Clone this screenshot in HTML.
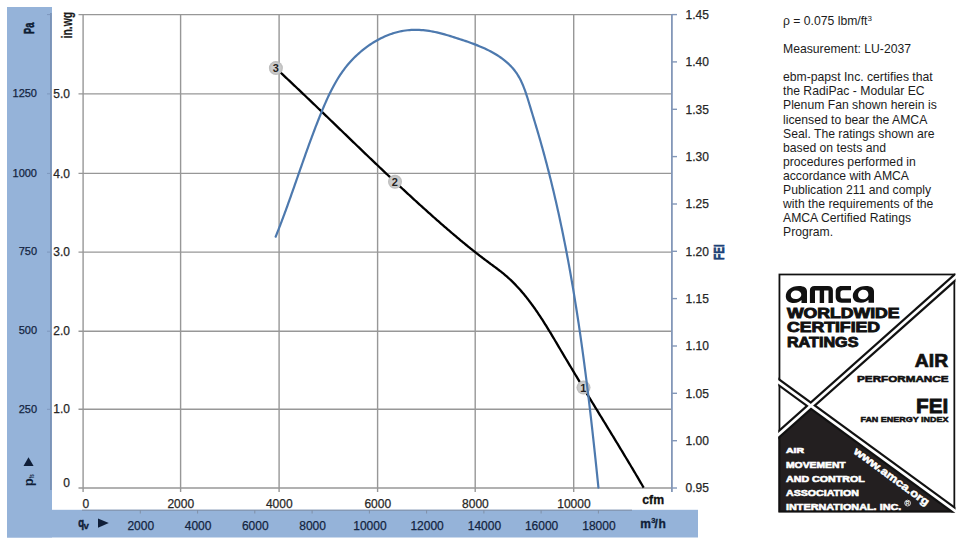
<!DOCTYPE html>
<html><head><meta charset="utf-8"><style>
html,body{margin:0;padding:0;background:#fff;}
body{width:966px;height:550px;overflow:hidden;position:relative;font-family:"Liberation Sans",sans-serif;}
svg text{font-family:"Liberation Sans",sans-serif;}
.rt{position:absolute;left:783px;font-size:12.2px;color:#1c1c1c;line-height:14.08px;white-space:nowrap;}
.sp{position:relative;top:-4px;font-size:8px;}
</style></head><body>
<svg width="966" height="550" viewBox="0 0 966 550" style="position:absolute;left:0;top:0">
<defs><radialGradient id="mg"><stop offset="0" stop-color="#d6d6d6"/><stop offset="0.7" stop-color="#cacaca"/><stop offset="1" stop-color="#b8b8b8"/></radialGradient><clipPath id="c1"><circle cx="583.5" cy="387.6" r="8"/></clipPath></defs>
<rect x="7" y="7" width="45" height="530.5" fill="#95b3d9"/>
<rect x="7" y="509.8" width="691" height="27.7" fill="#95b3d9"/>
<line x1="50.9" y1="13" x2="50.9" y2="490" stroke="#7890b2" stroke-width="1.6"/>
<line x1="82" y1="510.2" x2="632" y2="510.2" stroke="#7f8fa6" stroke-width="1"/>
<line x1="140.3" y1="510" x2="140.3" y2="513.5" stroke="#7f8fa6" stroke-width="1"/>
<line x1="197.6" y1="510" x2="197.6" y2="513.5" stroke="#7f8fa6" stroke-width="1"/>
<line x1="254.8" y1="510" x2="254.8" y2="513.5" stroke="#7f8fa6" stroke-width="1"/>
<line x1="312.1" y1="510" x2="312.1" y2="513.5" stroke="#7f8fa6" stroke-width="1"/>
<line x1="369.4" y1="510" x2="369.4" y2="513.5" stroke="#7f8fa6" stroke-width="1"/>
<line x1="426.6" y1="510" x2="426.6" y2="513.5" stroke="#7f8fa6" stroke-width="1"/>
<line x1="483.9" y1="510" x2="483.9" y2="513.5" stroke="#7f8fa6" stroke-width="1"/>
<line x1="541.1" y1="510" x2="541.1" y2="513.5" stroke="#7f8fa6" stroke-width="1"/>
<line x1="598.4" y1="510" x2="598.4" y2="513.5" stroke="#7f8fa6" stroke-width="1"/>
<line x1="78.5" y1="14.6" x2="671.9" y2="14.6" stroke="#979797" stroke-width="1.4"/>
<line x1="78.5" y1="93.9" x2="671.9" y2="93.9" stroke="#979797" stroke-width="1.4"/>
<line x1="78.5" y1="173.4" x2="671.9" y2="173.4" stroke="#979797" stroke-width="1.4"/>
<line x1="78.5" y1="252.1" x2="671.9" y2="252.1" stroke="#979797" stroke-width="1.4"/>
<line x1="78.5" y1="331.2" x2="671.9" y2="331.2" stroke="#979797" stroke-width="1.4"/>
<line x1="78.5" y1="409.3" x2="671.9" y2="409.3" stroke="#979797" stroke-width="1.4"/>
<line x1="78.5" y1="488.0" x2="671.9" y2="488.0" stroke="#979797" stroke-width="1.4"/>
<line x1="83.1" y1="14.6" x2="83.1" y2="492" stroke="#979797" stroke-width="1.4"/>
<line x1="180.6" y1="14.6" x2="180.6" y2="492" stroke="#979797" stroke-width="1.4"/>
<line x1="279.1" y1="14.6" x2="279.1" y2="492" stroke="#979797" stroke-width="1.4"/>
<line x1="377.6" y1="14.6" x2="377.6" y2="492" stroke="#979797" stroke-width="1.4"/>
<line x1="475.2" y1="14.6" x2="475.2" y2="492" stroke="#979797" stroke-width="1.4"/>
<line x1="573.7" y1="14.6" x2="573.7" y2="492" stroke="#979797" stroke-width="1.4"/>
<line x1="671.9" y1="14" x2="671.9" y2="492" stroke="#8397b8" stroke-width="1.8"/>
<line x1="671.9" y1="488.0" x2="677" y2="488.0" stroke="#8397b8" stroke-width="1.4"/>
<line x1="671.9" y1="440.7" x2="677" y2="440.7" stroke="#8397b8" stroke-width="1.4"/>
<line x1="671.9" y1="393.3" x2="677" y2="393.3" stroke="#8397b8" stroke-width="1.4"/>
<line x1="671.9" y1="346.0" x2="677" y2="346.0" stroke="#8397b8" stroke-width="1.4"/>
<line x1="671.9" y1="298.6" x2="677" y2="298.6" stroke="#8397b8" stroke-width="1.4"/>
<line x1="671.9" y1="251.3" x2="677" y2="251.3" stroke="#8397b8" stroke-width="1.4"/>
<line x1="671.9" y1="204.0" x2="677" y2="204.0" stroke="#8397b8" stroke-width="1.4"/>
<line x1="671.9" y1="156.6" x2="677" y2="156.6" stroke="#8397b8" stroke-width="1.4"/>
<line x1="671.9" y1="109.3" x2="677" y2="109.3" stroke="#8397b8" stroke-width="1.4"/>
<line x1="671.9" y1="61.9" x2="677" y2="61.9" stroke="#8397b8" stroke-width="1.4"/>
<line x1="671.9" y1="14.6" x2="677" y2="14.6" stroke="#8397b8" stroke-width="1.4"/>
<line x1="47" y1="14.6" x2="51" y2="14.6" stroke="#7d97bd" stroke-width="1"/>
<line x1="47" y1="93.9" x2="51" y2="93.9" stroke="#7d97bd" stroke-width="1"/>
<line x1="47" y1="173.4" x2="51" y2="173.4" stroke="#7d97bd" stroke-width="1"/>
<line x1="47" y1="252.1" x2="51" y2="252.1" stroke="#7d97bd" stroke-width="1"/>
<line x1="47" y1="331.2" x2="51" y2="331.2" stroke="#7d97bd" stroke-width="1"/>
<line x1="47" y1="409.3" x2="51" y2="409.3" stroke="#7d97bd" stroke-width="1"/>
<path d="M275.83,68.18 L276.87,69.14 L277.90,70.10 L278.94,71.06 L279.97,72.03 L281.00,72.99 L282.03,73.95 L283.07,74.92 L284.10,75.88 L285.13,76.85 L286.16,77.81 L287.19,78.78 L288.22,79.74 L289.25,80.71 L290.27,81.68 L291.30,82.65 L292.33,83.62 L293.36,84.59 L294.38,85.56 L295.41,86.53 L296.43,87.50 L297.46,88.47 L298.48,89.44 L299.51,90.41 L300.53,91.39 L301.56,92.36 L302.58,93.33 L303.60,94.31 L304.63,95.28 L305.65,96.26 L306.67,97.23 L307.69,98.21 L308.72,99.18 L309.74,100.16 L310.76,101.14 L311.78,102.11 L312.80,103.09 L313.82,104.07 L314.84,105.04 L315.86,106.02 L316.88,107.00 L317.90,107.98 L318.92,108.96 L319.94,109.94 L320.95,110.92 L321.97,111.90 L322.99,112.88 L324.01,113.85 L325.03,114.83 L326.05,115.81 L327.06,116.80 L328.08,117.78 L329.10,118.76 L330.12,119.74 L331.14,120.72 L332.15,121.70 L333.17,122.68 L334.19,123.66 L335.20,124.64 L336.22,125.62 L337.24,126.60 L338.26,127.58 L339.27,128.57 L340.29,129.55 L341.31,130.53 L342.33,131.51 L343.34,132.49 L344.36,133.47 L345.38,134.45 L346.39,135.43 L347.41,136.42 L348.43,137.40 L349.45,138.38 L350.46,139.36 L351.48,140.34 L352.50,141.32 L353.52,142.30 L354.54,143.28 L355.55,144.26 L356.57,145.24 L357.59,146.22 L358.61,147.20 L359.63,148.18 L360.65,149.16 L361.67,150.14 L362.69,151.12 L363.71,152.09 L364.73,153.07 L365.75,154.05 L366.77,155.03 L367.79,156.01 L368.81,156.98 L369.83,157.96 L370.85,158.94 L371.87,159.91 L372.90,160.89 L373.92,161.86 L374.94,162.84 L375.96,163.81 L376.99,164.79 L378.01,165.76 L379.04,166.74 L380.06,167.71 L381.09,168.68 L382.11,169.65 L383.14,170.63 L384.16,171.60 L385.19,172.57 L386.22,173.54 L387.24,174.51 L388.27,175.48 L389.30,176.45 L390.33,177.42 L391.36,178.39 L392.39,179.35 L393.42,180.32 L394.45,181.29 L395.48,182.25 L396.51,183.22 L397.54,184.18 L398.57,185.15 L399.61,186.11 L400.64,187.07 L401.67,188.03 L402.71,189.00 L403.75,189.96 L404.78,190.92 L405.82,191.88 L406.85,192.84 L407.89,193.79 L408.93,194.75 L409.97,195.71 L411.01,196.66 L412.05,197.62 L413.09,198.57 L414.13,199.53 L415.18,200.48 L416.22,201.43 L417.26,202.38 L418.31,203.33 L419.35,204.28 L420.40,205.23 L421.44,206.18 L422.49,207.13 L423.54,208.07 L424.59,209.02 L425.64,209.96 L426.69,210.91 L427.74,211.85 L428.79,212.79 L429.85,213.73 L430.90,214.67 L431.95,215.61 L433.01,216.55 L434.07,217.49 L435.12,218.42 L436.18,219.36 L437.24,220.29 L438.30,221.23 L439.36,222.16 L440.42,223.09 L441.49,224.02 L442.55,224.95 L443.61,225.88 L444.68,226.80 L445.75,227.73 L446.81,228.65 L447.88,229.57 L448.95,230.49 L450.02,231.41 L451.10,232.33 L452.17,233.25 L453.25,234.17 L454.32,235.08 L455.40,235.99 L456.48,236.90 L457.56,237.81 L458.64,238.72 L459.73,239.62 L460.81,240.53 L461.90,241.43 L462.99,242.33 L464.08,243.22 L465.17,244.12 L466.27,245.01 L467.36,245.90 L468.46,246.79 L469.56,247.68 L470.66,248.56 L471.77,249.45 L472.87,250.33 L473.98,251.20 L475.09,252.08 L476.20,252.95 L477.32,253.82 L478.43,254.69 L479.55,255.55 L480.67,256.42 L481.80,257.28 L482.92,258.13 L484.05,258.99 L485.18,259.84 L486.31,260.69 L487.45,261.53 L488.59,262.38 L489.73,263.22 L490.87,264.06 L492.01,264.90 L493.15,265.74 L494.28,266.58 L495.42,267.42 L496.55,268.27 L497.68,269.12 L498.80,269.98 L499.92,270.84 L501.03,271.71 L502.13,272.59 L503.22,273.48 L504.31,274.37 L505.39,275.28 L506.45,276.19 L507.51,277.12 L508.55,278.06 L509.59,279.01 L510.61,279.96 L511.63,280.93 L512.63,281.91 L513.63,282.90 L514.61,283.90 L515.59,284.90 L516.56,285.92 L517.51,286.94 L518.46,287.98 L519.41,289.02 L520.34,290.07 L521.26,291.12 L522.18,292.19 L523.09,293.26 L523.99,294.34 L524.88,295.43 L525.77,296.52 L526.65,297.62 L527.52,298.73 L528.38,299.84 L529.24,300.96 L530.09,302.08 L530.93,303.21 L531.77,304.35 L532.60,305.49 L533.42,306.63 L534.24,307.78 L535.06,308.94 L535.86,310.10 L536.67,311.26 L537.46,312.42 L538.25,313.59 L539.04,314.77 L539.82,315.94 L540.60,317.12 L541.37,318.31 L542.14,319.49 L542.91,320.68 L543.67,321.87 L544.43,323.07 L545.18,324.27 L545.93,325.46 L546.68,326.67 L547.42,327.87 L548.16,329.08 L548.90,330.28 L549.63,331.49 L550.37,332.70 L551.10,333.92 L551.83,335.13 L552.56,336.35 L553.28,337.56 L554.01,338.78 L554.73,340.00 L555.45,341.22 L556.18,342.43 L556.90,343.65 L557.62,344.87 L558.34,346.09 L559.06,347.31 L559.77,348.53 L560.49,349.75 L561.21,350.97 L561.93,352.19 L562.66,353.41 L563.38,354.63 L564.10,355.85 L564.82,357.06 L565.55,358.28 L566.27,359.49 L567.00,360.71 L567.72,361.92 L568.45,363.14 L569.17,364.35 L569.90,365.56 L570.63,366.78 L571.35,367.99 L572.08,369.20 L572.81,370.41 L573.54,371.62 L574.27,372.83 L575.00,374.04 L575.73,375.25 L576.46,376.46 L577.19,377.67 L577.92,378.88 L578.66,380.09 L579.39,381.30 L580.12,382.50 L580.85,383.71 L581.59,384.92 L582.32,386.13 L583.06,387.33 L583.79,388.54 L584.52,389.75 L585.26,390.95 L585.99,392.16 L586.73,393.36 L587.46,394.57 L588.20,395.77 L588.94,396.98 L589.67,398.18 L590.41,399.39 L591.14,400.59 L591.88,401.80 L592.62,403.00 L593.35,404.20 L594.09,405.41 L594.83,406.61 L595.56,407.82 L596.30,409.02 L597.04,410.22 L597.77,411.43 L598.51,412.63 L599.25,413.83 L599.98,415.04 L600.72,416.24 L601.46,417.45 L602.19,418.65 L602.93,419.85 L603.67,421.06 L604.40,422.26 L605.14,423.46 L605.88,424.67 L606.61,425.87 L607.35,427.08 L608.08,428.28 L608.82,429.49 L609.55,430.69 L610.29,431.90 L611.03,433.10 L611.76,434.31 L612.49,435.51 L613.23,436.72 L613.96,437.92 L614.70,439.13 L615.43,440.33 L616.16,441.54 L616.90,442.75 L617.63,443.96 L618.36,445.16 L619.09,446.37 L619.83,447.58 L620.56,448.79 L621.29,450.00 L622.02,451.20 L622.75,452.41 L623.48,453.62 L624.21,454.83 L624.94,456.04 L625.66,457.25 L626.39,458.47 L627.12,459.68 L627.85,460.89 L628.57,462.10 L629.30,463.32 L630.02,464.53 L630.75,465.74 L631.47,466.96 L632.20,468.17 L632.92,469.39 L633.64,470.60 L634.36,471.82 L635.08,473.04 L635.80,474.26 L636.52,475.47 L637.24,476.69 L637.96,477.91 L638.68,479.13 L639.40,480.35 L640.11,481.57 L640.83,482.80 L641.54,484.02 L642.26,485.24 L642.97,486.47 L643.68,487.69" fill="none" stroke="#000" stroke-width="2.3" stroke-linecap="butt" stroke-linejoin="round"/>
<circle cx="275.9" cy="68.1" r="7" fill="url(#mg)"/>
<text x="275.7" y="72.1" font-size="11" font-weight="bold" text-anchor="middle" fill="#222">3</text>
<circle cx="395" cy="181.8" r="7" fill="url(#mg)"/>
<text x="394.8" y="185.8" font-size="11" font-weight="bold" text-anchor="middle" fill="#222">2</text>
<circle cx="583.5" cy="387.6" r="7" fill="url(#mg)"/>
<text x="583.3" y="391.6" font-size="11" font-weight="bold" text-anchor="middle" fill="#222">1</text>
<path d="M275.66,236.73 L276.40,234.88 L277.14,233.02 L277.87,231.16 L278.60,229.30 L279.33,227.44 L280.05,225.57 L280.76,223.70 L281.47,221.83 L282.18,219.96 L282.89,218.08 L283.59,216.20 L284.28,214.32 L284.98,212.43 L285.67,210.54 L286.36,208.66 L287.04,206.77 L287.73,204.87 L288.41,202.98 L289.09,201.08 L289.76,199.19 L290.44,197.29 L291.11,195.39 L291.78,193.49 L292.45,191.59 L293.12,189.68 L293.79,187.78 L294.46,185.88 L295.13,183.97 L295.79,182.06 L296.46,180.16 L297.12,178.25 L297.79,176.34 L298.45,174.44 L299.12,172.53 L299.78,170.62 L300.45,168.71 L301.12,166.81 L301.79,164.90 L302.46,162.99 L303.13,161.09 L303.80,159.18 L304.47,157.28 L305.15,155.37 L305.82,153.47 L306.50,151.57 L307.18,149.67 L307.87,147.77 L308.55,145.87 L309.24,143.97 L309.94,142.08 L310.63,140.18 L311.33,138.29 L312.03,136.40 L312.73,134.51 L313.44,132.63 L314.16,130.74 L314.87,128.86 L315.59,126.98 L316.32,125.11 L317.05,123.23 L317.78,121.36 L318.52,119.49 L319.26,117.62 L320.01,115.76 L320.77,113.90 L321.53,112.04 L322.29,110.19 L323.06,108.34 L323.84,106.49 L324.63,104.65 L325.43,102.82 L326.24,100.99 L327.06,99.16 L327.89,97.35 L328.74,95.54 L329.60,93.74 L330.48,91.95 L331.37,90.17 L332.28,88.41 L333.21,86.65 L334.16,84.90 L335.14,83.17 L336.13,81.44 L337.15,79.74 L338.19,78.04 L339.25,76.36 L340.35,74.70 L341.46,73.05 L342.61,71.41 L343.79,69.80 L345.00,68.20 L346.23,66.62 L347.50,65.06 L348.81,63.52 L350.14,61.99 L351.52,60.49 L352.92,59.01 L354.36,57.56 L355.82,56.12 L357.32,54.72 L358.85,53.34 L360.40,51.98 L361.98,50.66 L363.59,49.37 L365.22,48.11 L366.88,46.88 L368.55,45.68 L370.26,44.52 L371.98,43.39 L373.72,42.30 L375.49,41.25 L377.27,40.23 L379.07,39.26 L380.88,38.33 L382.71,37.44 L384.56,36.59 L386.42,35.79 L388.29,35.04 L390.17,34.33 L392.07,33.67 L393.97,33.06 L395.89,32.49 L397.81,31.98 L399.74,31.53 L401.67,31.12 L403.61,30.77 L405.56,30.48 L407.51,30.25 L409.46,30.06 L411.41,29.93 L413.37,29.86 L415.32,29.83 L417.28,29.85 L419.24,29.92 L421.20,30.04 L423.16,30.19 L425.12,30.40 L427.08,30.64 L429.04,30.92 L431.00,31.24 L432.95,31.59 L434.90,31.98 L436.85,32.40 L438.80,32.86 L440.75,33.34 L442.69,33.85 L444.62,34.39 L446.56,34.95 L448.49,35.52 L450.43,36.12 L452.36,36.72 L454.29,37.34 L456.22,37.96 L458.16,38.58 L460.09,39.21 L462.03,39.85 L463.96,40.49 L465.89,41.15 L467.82,41.81 L469.75,42.49 L471.67,43.19 L473.59,43.90 L475.50,44.63 L477.40,45.38 L479.30,46.15 L481.18,46.95 L483.05,47.77 L484.91,48.61 L486.75,49.48 L488.58,50.38 L490.38,51.30 L492.16,52.26 L493.91,53.24 L495.64,54.25 L497.34,55.30 L499.02,56.38 L500.65,57.50 L502.26,58.65 L503.83,59.84 L505.36,61.07 L506.85,62.33 L508.30,63.63 L509.70,64.98 L511.06,66.37 L512.37,67.80 L513.63,69.27 L514.84,70.79 L516.00,72.36 L517.10,73.97 L518.14,75.63 L519.13,77.33 L520.08,79.07 L520.97,80.86 L521.83,82.67 L522.64,84.52 L523.42,86.39 L524.16,88.29 L524.88,90.21 L525.57,92.15 L526.23,94.10 L526.88,96.06 L527.51,98.04 L528.12,100.01 L528.73,101.99 L529.33,103.97 L529.93,105.94 L530.52,107.91 L531.11,109.87 L531.71,111.83 L532.30,113.78 L532.89,115.72 L533.48,117.66 L534.06,119.60 L534.65,121.54 L535.23,123.47 L535.81,125.40 L536.38,127.33 L536.96,129.25 L537.53,131.18 L538.10,133.10 L538.66,135.03 L539.22,136.96 L539.78,138.89 L540.33,140.82 L540.88,142.75 L541.43,144.68 L541.97,146.61 L542.51,148.54 L543.04,150.48 L543.58,152.41 L544.10,154.35 L544.63,156.29 L545.15,158.23 L545.67,160.17 L546.18,162.11 L546.70,164.05 L547.20,165.99 L547.71,167.93 L548.21,169.88 L548.71,171.82 L549.21,173.77 L549.70,175.71 L550.19,177.66 L550.67,179.61 L551.15,181.56 L551.63,183.51 L552.11,185.46 L552.58,187.41 L553.05,189.37 L553.52,191.32 L553.98,193.27 L554.44,195.23 L554.90,197.18 L555.35,199.14 L555.81,201.10 L556.25,203.06 L556.70,205.02 L557.14,206.98 L557.58,208.94 L558.02,210.90 L558.45,212.86 L558.88,214.82 L559.31,216.79 L559.74,218.75 L560.16,220.72 L560.58,222.68 L560.99,224.65 L561.41,226.62 L561.82,228.58 L562.23,230.55 L562.63,232.52 L563.04,234.49 L563.44,236.46 L563.83,238.43 L564.23,240.41 L564.62,242.38 L565.01,244.35 L565.40,246.33 L565.78,248.30 L566.16,250.28 L566.54,252.25 L566.92,254.23 L567.29,256.20 L567.67,258.18 L568.04,260.16 L568.40,262.14 L568.77,264.12 L569.13,266.10 L569.49,268.08 L569.84,270.06 L570.20,272.04 L570.55,274.02 L570.90,276.00 L571.25,277.99 L571.60,279.97 L571.94,281.95 L572.28,283.94 L572.62,285.92 L572.96,287.91 L573.29,289.89 L573.62,291.88 L573.95,293.87 L574.28,295.85 L574.60,297.84 L574.93,299.83 L575.25,301.82 L575.57,303.81 L575.89,305.80 L576.20,307.78 L576.51,309.77 L576.83,311.76 L577.13,313.76 L577.44,315.75 L577.75,317.74 L578.05,319.73 L578.35,321.72 L578.65,323.71 L578.95,325.71 L579.24,327.70 L579.54,329.69 L579.83,331.69 L580.12,333.68 L580.41,335.68 L580.70,337.67 L580.98,339.67 L581.26,341.66 L581.55,343.66 L581.82,345.65 L582.10,347.65 L582.38,349.64 L582.65,351.64 L582.93,353.64 L583.20,355.63 L583.47,357.63 L583.74,359.63 L584.00,361.63 L584.27,363.62 L584.53,365.62 L584.79,367.62 L585.05,369.62 L585.31,371.62 L585.57,373.61 L585.83,375.61 L586.08,377.61 L586.34,379.61 L586.59,381.61 L586.84,383.61 L587.09,385.61 L587.34,387.61 L587.58,389.61 L587.83,391.61 L588.07,393.61 L588.31,395.61 L588.56,397.61 L588.80,399.61 L589.04,401.61 L589.27,403.61 L589.51,405.61 L589.75,407.61 L589.98,409.61 L590.21,411.61 L590.45,413.61 L590.68,415.61 L590.91,417.61 L591.14,419.61 L591.36,421.61 L591.59,423.61 L591.82,425.61 L592.04,427.61 L592.27,429.60 L592.49,431.60 L592.71,433.60 L592.93,435.60 L593.15,437.60 L593.37,439.60 L593.59,441.60 L593.81,443.60 L594.03,445.60 L594.24,447.60 L594.46,449.60 L594.67,451.60 L594.89,453.60 L595.10,455.59 L595.31,457.59 L595.53,459.59 L595.74,461.59 L595.95,463.59 L596.16,465.58 L596.37,467.58 L596.58,469.58 L596.78,471.58 L596.99,473.57 L597.20,475.57 L597.40,477.57 L597.61,479.56 L597.82,481.56 L598.02,483.55 L598.23,485.55 L598.43,487.54" fill="none" stroke="#4d79ae" stroke-width="2.2" stroke-linecap="round" stroke-linejoin="round"/>
<text x="70" y="413.4" font-size="12" text-anchor="end" fill="#262626" stroke="#262626" stroke-width="0.25">1.0</text>
<text x="37" y="412.5" font-size="11" text-anchor="end" fill="#13243f" stroke="#13243f" stroke-width="0.25">250</text>
<text x="70" y="335.3" font-size="12" text-anchor="end" fill="#262626" stroke="#262626" stroke-width="0.25">2.0</text>
<text x="37" y="334.4" font-size="11" text-anchor="end" fill="#13243f" stroke="#13243f" stroke-width="0.25">500</text>
<text x="70" y="256.2" font-size="12" text-anchor="end" fill="#262626" stroke="#262626" stroke-width="0.25">3.0</text>
<text x="37" y="255.3" font-size="11" text-anchor="end" fill="#13243f" stroke="#13243f" stroke-width="0.25">750</text>
<text x="70" y="177.5" font-size="12" text-anchor="end" fill="#262626" stroke="#262626" stroke-width="0.25">4.0</text>
<text x="37" y="176.6" font-size="11" text-anchor="end" fill="#13243f" stroke="#13243f" stroke-width="0.25">1000</text>
<text x="70" y="98.0" font-size="12" text-anchor="end" fill="#262626" stroke="#262626" stroke-width="0.25">5.0</text>
<text x="37" y="97.1" font-size="11" text-anchor="end" fill="#13243f" stroke="#13243f" stroke-width="0.25">1250</text>
<text x="70" y="487.2" font-size="12" text-anchor="end" fill="#262626" stroke="#262626" stroke-width="0.25">0</text>
<text x="685.5" y="492.3" font-size="12" fill="#262626" stroke="#262626" stroke-width="0.25">0.95</text>
<text x="685.5" y="445.0" font-size="12" fill="#262626" stroke="#262626" stroke-width="0.25">1.00</text>
<text x="685.5" y="397.6" font-size="12" fill="#262626" stroke="#262626" stroke-width="0.25">1.05</text>
<text x="685.5" y="350.3" font-size="12" fill="#262626" stroke="#262626" stroke-width="0.25">1.10</text>
<text x="685.5" y="302.9" font-size="12" fill="#262626" stroke="#262626" stroke-width="0.25">1.15</text>
<text x="685.5" y="255.6" font-size="12" fill="#262626" stroke="#262626" stroke-width="0.25">1.20</text>
<text x="685.5" y="208.3" font-size="12" fill="#262626" stroke="#262626" stroke-width="0.25">1.25</text>
<text x="685.5" y="160.9" font-size="12" fill="#262626" stroke="#262626" stroke-width="0.25">1.30</text>
<text x="685.5" y="113.6" font-size="12" fill="#262626" stroke="#262626" stroke-width="0.25">1.35</text>
<text x="685.5" y="66.2" font-size="12" fill="#262626" stroke="#262626" stroke-width="0.25">1.40</text>
<text x="685.5" y="18.9" font-size="12" fill="#262626" stroke="#262626" stroke-width="0.25">1.45</text>
<text x="85.9" y="507.6" font-size="12" text-anchor="middle" fill="#262626" stroke="#262626" stroke-width="0.25">0</text>
<text x="180.8" y="507.6" font-size="12" text-anchor="middle" fill="#262626" stroke="#262626" stroke-width="0.25">2000</text>
<text x="279.3" y="507.6" font-size="12" text-anchor="middle" fill="#262626" stroke="#262626" stroke-width="0.25">4000</text>
<text x="377.8" y="507.6" font-size="12" text-anchor="middle" fill="#262626" stroke="#262626" stroke-width="0.25">6000</text>
<text x="475.4" y="507.6" font-size="12" text-anchor="middle" fill="#262626" stroke="#262626" stroke-width="0.25">8000</text>
<text x="573.9" y="507.6" font-size="12" text-anchor="middle" fill="#262626" stroke="#262626" stroke-width="0.25">10000</text>
<text x="140.8" y="530" font-size="12" text-anchor="middle" fill="#13243f" stroke="#13243f" stroke-width="0.25">2000</text>
<text x="198.1" y="530" font-size="12" text-anchor="middle" fill="#13243f" stroke="#13243f" stroke-width="0.25">4000</text>
<text x="255.3" y="530" font-size="12" text-anchor="middle" fill="#13243f" stroke="#13243f" stroke-width="0.25">6000</text>
<text x="312.6" y="530" font-size="12" text-anchor="middle" fill="#13243f" stroke="#13243f" stroke-width="0.25">8000</text>
<text x="369.9" y="530" font-size="12" text-anchor="middle" fill="#13243f" stroke="#13243f" stroke-width="0.25">10000</text>
<text x="427.1" y="530" font-size="12" text-anchor="middle" fill="#13243f" stroke="#13243f" stroke-width="0.25">12000</text>
<text x="484.4" y="530" font-size="12" text-anchor="middle" fill="#13243f" stroke="#13243f" stroke-width="0.25">14000</text>
<text x="541.6" y="530" font-size="12" text-anchor="middle" fill="#13243f" stroke="#13243f" stroke-width="0.25">16000</text>
<text x="598.9" y="530" font-size="12" text-anchor="middle" fill="#13243f" stroke="#13243f" stroke-width="0.25">18000</text>
<text transform="translate(34.0,33.9) rotate(-90)" font-size="14" font-weight="bold" fill="#0d1b33" stroke="#0d1b33" stroke-width="0.55" textLength="11.3" lengthAdjust="spacingAndGlyphs">Pa</text>
<text transform="translate(71.6,38.4) rotate(-90)" font-size="15.5" font-weight="bold" fill="#1a1a1a" stroke="#1a1a1a" stroke-width="0.25" textLength="26.4" lengthAdjust="spacingAndGlyphs">in.wg</text>
<text transform="translate(724.3,259.9) rotate(-90)" font-size="13.8" font-weight="bold" fill="#1d4177" stroke="#1d4177" stroke-width="0.7" textLength="15.6" lengthAdjust="spacingAndGlyphs">FEI</text>
<text x="642.3" y="503.5" font-size="12" font-weight="bold" fill="#111" stroke="#111" stroke-width="0.3" textLength="21.8" lengthAdjust="spacingAndGlyphs">cfm</text>
<g font-weight="bold" fill="#0f1e38" stroke="#0f1e38" stroke-width="0.3"><text x="640.2" y="527.5" font-size="12">m</text><text x="651.3" y="523.4" font-size="7.5">3</text><text x="654.6" y="527.5" font-size="12">/</text><text x="658.6" y="527.5" font-size="12">h</text></g>
<text x="78.2" y="527.3" font-size="13" font-weight="bold" fill="#0f1e38" stroke="#0f1e38" stroke-width="0.6" textLength="5.8" lengthAdjust="spacingAndGlyphs">q</text>
<text x="83.6" y="528.8" font-size="8.5" font-weight="bold" fill="#0f1e38" stroke="#0f1e38" stroke-width="0.3" textLength="5.4" lengthAdjust="spacingAndGlyphs">v</text>
<path d="M98,518.4 L108.8,523 L98,527.7 Z" fill="#0f1e38"/>
<path d="M23.5,466 L28.5,457.2 L33.6,466 Z" fill="#0f1e38"/>
<text transform="translate(33.4,486.3) rotate(-90)" font-size="13.5" font-weight="bold" fill="#0f1e38" textLength="8" lengthAdjust="spacingAndGlyphs">p</text>
<text transform="translate(34.2,478.2) rotate(-90)" font-size="7" font-weight="bold" fill="#0f1e38" textLength="4" lengthAdjust="spacingAndGlyphs">fs</text>
<defs><clipPath id="lc"><rect x="778.4" y="273.40000000000003" width="177.00000000000006" height="239.0"/></clipPath></defs>
<g clip-path="url(#lc)">
<path d="M810.9,405.7 L776.3,436.5 L776.3,514.5 L957.5,514.5 L957.5,512.7 Z" fill="#231f20"/>
<rect x="779.3" y="274.3" width="175.20000000000005" height="237.2" fill="none" stroke="#111" stroke-width="2.1"/>
<line x1="769.3" y1="442.7" x2="964.5" y2="269.0" stroke="#111" stroke-width="7.2"/>
<line x1="769.3" y1="375.3" x2="964.5" y2="517.8" stroke="#111" stroke-width="7.2"/>
</g>
<line x1="769.3" y1="442.7" x2="964.5" y2="269.0" stroke="#fff" stroke-width="2.8"/>
<line x1="769.3" y1="375.3" x2="964.5" y2="517.8" stroke="#fff" stroke-width="2.8"/>
<path fill="#111" fill-rule="evenodd" d="M807,303 L807,291.5 C807,288 804.5,285.9 799,285.9 C791,285.9 785.8,290.5 785.8,296.2 C785.8,300.5 789,303 794,303 C797.5,303 800,301.5 801.5,300 L801.5,303 Z M796,290.5 C799.3,290.5 801.3,292.3 801.3,294.6 C801.3,297.2 799,299.1 795.8,299.1 C792.6,299.1 790.8,297.4 790.8,295.2 C790.8,292.6 793,290.5 796,290.5 Z"/>
<path fill="#111" fill-rule="evenodd" d="M809.9,303 L809.9,290.5 C809.9,287.5 811.5,285.9 814.5,285.9 L828,285.9 C831.2,285.9 832.9,287.5 832.9,290.5 L832.9,303 L828.5,303 L828.5,290.5 L824.1,290.5 L824.1,303 L819.7,303 L819.7,290.5 L815,290.5 L815,303 Z"/>
<path fill="#111" d="M851,285.9 L851,290.3 L843,290.3 C841.3,290.3 840.4,291.3 840.4,293 L840.4,296 C840.4,297.7 841.3,298.6 843,298.6 L851,298.6 L851,302.7 L841.5,302.7 C837.9,302.7 835.7,300.5 835.7,297 L835.7,291.6 C835.7,288.1 837.9,285.9 841.5,285.9 Z"/>
<path fill="#111" fill-rule="evenodd" d="M874,302.7 L874,291.5 C874,288 871.5,285.9 866,285.9 C858,285.9 852.8,290.5 852.8,296 C852.8,300.3 856,302.7 861,302.7 C864.5,302.7 867,301.3 868.5,299.8 L868.5,302.7 Z M863.2,289.8 C866.5,289.8 868.4,291.8 868.4,294.2 C868.4,297 866.2,299.3 862.9,299.3 C859.8,299.3 858.1,297.4 858.1,295.2 C858.1,292.3 860.3,289.8 863.2,289.8 Z"/>
<text x="786.9" y="317.60" font-size="13.95" font-weight="bold" fill="#111" stroke="#111" stroke-width="0.9" textLength="112.7" lengthAdjust="spacingAndGlyphs">WORLDWIDE</text>
<text x="786.9" y="332.10" font-size="14.39" font-weight="bold" fill="#111" stroke="#111" stroke-width="0.9" textLength="93.2" lengthAdjust="spacingAndGlyphs">CERTIFIED</text>
<text x="786.9" y="346.50" font-size="14.68" font-weight="bold" fill="#111" stroke="#111" stroke-width="0.9" textLength="71.6" lengthAdjust="spacingAndGlyphs">RATINGS</text>
<text x="914.8" y="367.00" font-size="17.59" font-weight="bold" fill="#111" stroke="#111" stroke-width="0.7" textLength="33.3" lengthAdjust="spacingAndGlyphs">AIR</text>
<text x="857.1" y="382.45" font-size="9.88" font-weight="bold" fill="#111" stroke="#111" stroke-width="0.6" textLength="91.4" lengthAdjust="spacingAndGlyphs">PERFORMANCE</text>
<text x="916" y="412.75" font-size="20.93" font-weight="bold" fill="#111" stroke="#111" stroke-width="0.8" textLength="32.3" lengthAdjust="spacingAndGlyphs">FEI</text>
<text x="860.4" y="421.50" font-size="7.99" font-weight="bold" fill="#111" stroke="#111" stroke-width="0.5" textLength="88.2" lengthAdjust="spacingAndGlyphs">FAN ENERGY INDEX</text>
<text x="786" y="453.45" font-size="7.99" font-weight="bold" fill="#fff" stroke="#fff" stroke-width="0.6" textLength="18.0" lengthAdjust="spacingAndGlyphs">AIR</text>
<text x="786" y="467.55" font-size="8.72" font-weight="bold" fill="#fff" stroke="#fff" stroke-width="0.6" textLength="59.7" lengthAdjust="spacingAndGlyphs">MOVEMENT</text>
<text x="786" y="481.55" font-size="8.58" font-weight="bold" fill="#fff" stroke="#fff" stroke-width="0.6" textLength="78.8" lengthAdjust="spacingAndGlyphs">AND CONTROL</text>
<text x="786" y="495.55" font-size="9.16" font-weight="bold" fill="#fff" stroke="#fff" stroke-width="0.6" textLength="72.9" lengthAdjust="spacingAndGlyphs">ASSOCIATION</text>
<text x="786" y="509.85" font-size="9.59" font-weight="bold" fill="#fff" stroke="#fff" stroke-width="0.6" textLength="115.3" lengthAdjust="spacingAndGlyphs">INTERNATIONAL. INC.</text>
<circle cx="907.6" cy="503.1" r="2.9" fill="none" stroke="#fff" stroke-width="0.8"/><text x="907.6" y="505" font-size="5" font-weight="bold" text-anchor="middle" fill="#fff">R</text>
<text transform="translate(852.9,452.9) rotate(36.13)" font-size="11" font-weight="bold" fill="#fff" stroke="#fff" stroke-width="0.5" textLength="90.5" lengthAdjust="spacingAndGlyphs">www.amca.org</text>
</svg>
<div class="rt" style="top:13.7px">&#961; = 0.075 lbm/ft<span class="sp">3</span></div>
<div class="rt" style="top:41.8px">Measurement: LU-2037</div>
<div class="rt" style="top:70.3px">ebm-papst Inc. certifies that<br>the RadiPac - Modular EC<br>Plenum Fan shown herein is<br>licensed to bear the AMCA<br>Seal. The ratings shown are<br>based on tests and<br>procedures performed in<br>accordance with AMCA<br>Publication 211 and comply<br>with the requirements of the<br>AMCA Certified Ratings<br>Program.</div>
</body></html>
